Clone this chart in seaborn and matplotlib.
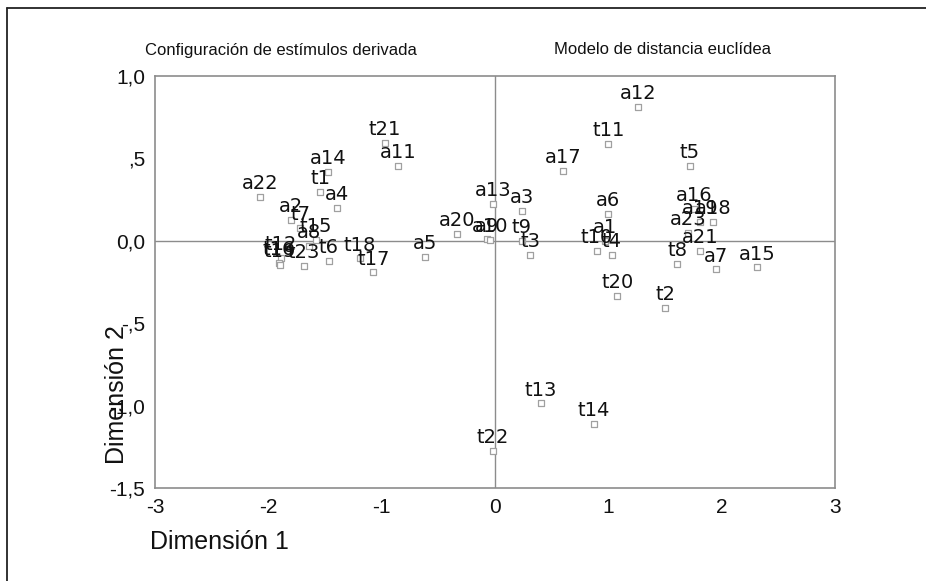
import matplotlib
matplotlib.use("Agg")
import matplotlib.pyplot as plt
import seaborn as sns
import pandas as pd
from matplotlib.lines import Line2D

# ---- data ----
labels_a = ["a1", "a2", "a3", "a4", "a5", "a6", "a7", "a8", "a9", "a10", "a11", "a12",
            "a13", "a14", "a15", "a16", "a17", "a18", "a19", "a20", "a21", "a22", "a23"]
dim1_a = [0.97, -1.80, 0.236, -1.39, -0.618, 0.994, 1.947, -1.64, -0.07, -0.045, -0.853, 1.264,
          -0.02, -1.471, 2.314, 1.756, 0.60, 1.924, 1.809, -0.338, 1.809, -2.074, 1.703]
dim2_a = [0.0, 0.127, 0.182, 0.202, -0.097, 0.162, -0.172, -0.03, 0.01, 0.005, 0.455, 0.813,
          0.223, 0.42, -0.162, 0.194, 0.425, 0.115, 0.115, 0.044, -0.061, 0.267, 0.049]

labels_t = ["t1", "t2", "t3", "t4", "t5", "t6", "t7", "t8", "t9", "t10", "t11", "t12",
            "t13", "t14", "t15", "t16", "t17", "t18", "t19", "t20", "t21", "t22", "t23"]
dim1_t = [-1.544, 1.50, 0.309, 1.03, 1.72, -1.467, -1.72, 1.609, 0.236, 0.897, 1.0, -1.888,
          0.403, 0.874, -1.58, -1.906, -1.074, -1.19, -1.90, 1.079, -0.971, -0.02, -1.685]
dim2_t = [0.297, -0.405, -0.087, -0.085, 0.455, -0.121, 0.079, -0.141, 0.0, -0.061, 0.59, -0.103,
          -0.987, -1.112, 0.006, -0.133, -0.192, -0.107, -0.146, -0.334, 0.596, -1.274, -0.152]

x_ticks = [-3, -2, -1, 0, 1, 2, 3]
x_ticklabels = ["-3", "-2", "-1", "0", "1", "2", "3"]
y_ticks = [1.0, 0.5, 0.0, -0.5, -1.0, -1.5]
y_ticklabels = ["1,0", ",5", "0,0", "-,5", "-1,0", "-1,5"]

title_left = "Configuración de estímulos derivada"
title_right = "Modelo de distancia euclídea"
xlabel = "Dimensión 1"
ylabel = "Dimensión 2"

df = pd.DataFrame({
    "label": labels_a + labels_t,
    "dim1": dim1_a + dim1_t,
    "dim2": dim2_a + dim2_t,
})

# ---- style ----
sns.set_theme(style="white")
plt.rcParams["font.family"] = ["DejaVu Sans"]
sans = ["Liberation Sans", "DejaVu Sans"]

W, H = 926, 581
fig = plt.figure(figsize=(W / 100, H / 100), dpi=100)
ax = fig.add_axes([155 / W, 1 - 488 / H, (835 - 155) / W, (488 - 76) / H])

frame_gray = "#8c8c8c"
ax.axhline(0, color=frame_gray, lw=1.0, zorder=1)
ax.axvline(0, color=frame_gray, lw=1.0, zorder=1)

sns.scatterplot(data=df, x="dim1", y="dim2", marker="s", s=22,
                facecolor="white", edgecolor="#a0a0a0", linewidth=0.9,
                ax=ax, zorder=3, legend=False)

for lab, xv, yv in zip(df["label"], df["dim1"], df["dim2"]):
    ax.annotate(lab, (xv, yv), xytext=(0, 5.5), textcoords="offset points",
                ha="center", va="baseline", fontsize=14, color="#111111",
                family="DejaVu Sans", zorder=4)

ax.set_xlim(-3, 3)
ax.set_ylim(-1.5, 1.0)
ax.set_xticks(x_ticks)
ax.set_xticklabels(x_ticklabels, family=sans, fontsize=15)
ax.set_yticks(y_ticks)
ax.set_yticklabels(y_ticklabels, family=sans, fontsize=15)
ax.tick_params(axis="both", which="major", direction="out", length=3, width=4,
               color="black", pad=4, labelcolor="#111111")
for sp in ax.spines.values():
    sp.set_color(frame_gray)
    sp.set_linewidth(1.2)
ax.set_xlabel("")
ax.set_ylabel("")
ax.grid(False)

# titles
fig.text(281 / W, 1 - 50 / H, title_left, ha="center", va="center",
         family=sans, fontsize=12, color="#111111")
fig.text(662 / W, 1 - 50 / H, title_right, ha="center", va="center",
         family=sans, fontsize=12, color="#111111")
# axis labels
fig.text(150 / W, 1 - 542 / H, xlabel, ha="left", va="center",
         family=sans, fontsize=18, color="#111111")
fig.text(117 / W, 1 - 395 / H, ylabel, ha="center", va="center", rotation=90,
         family=sans, fontsize=18, color="#111111")

# page border (top and left)
fig.add_artist(Line2D([7 / W, 7 / W], [0, 1 - 8 / H], transform=fig.transFigure,
                      color="#222222", lw=1.3))
fig.add_artist(Line2D([7 / W, 1], [1 - 8 / H, 1 - 8 / H], transform=fig.transFigure,
                      color="#222222", lw=1.3))

fig.savefig("out.png", dpi=100, facecolor="white")
